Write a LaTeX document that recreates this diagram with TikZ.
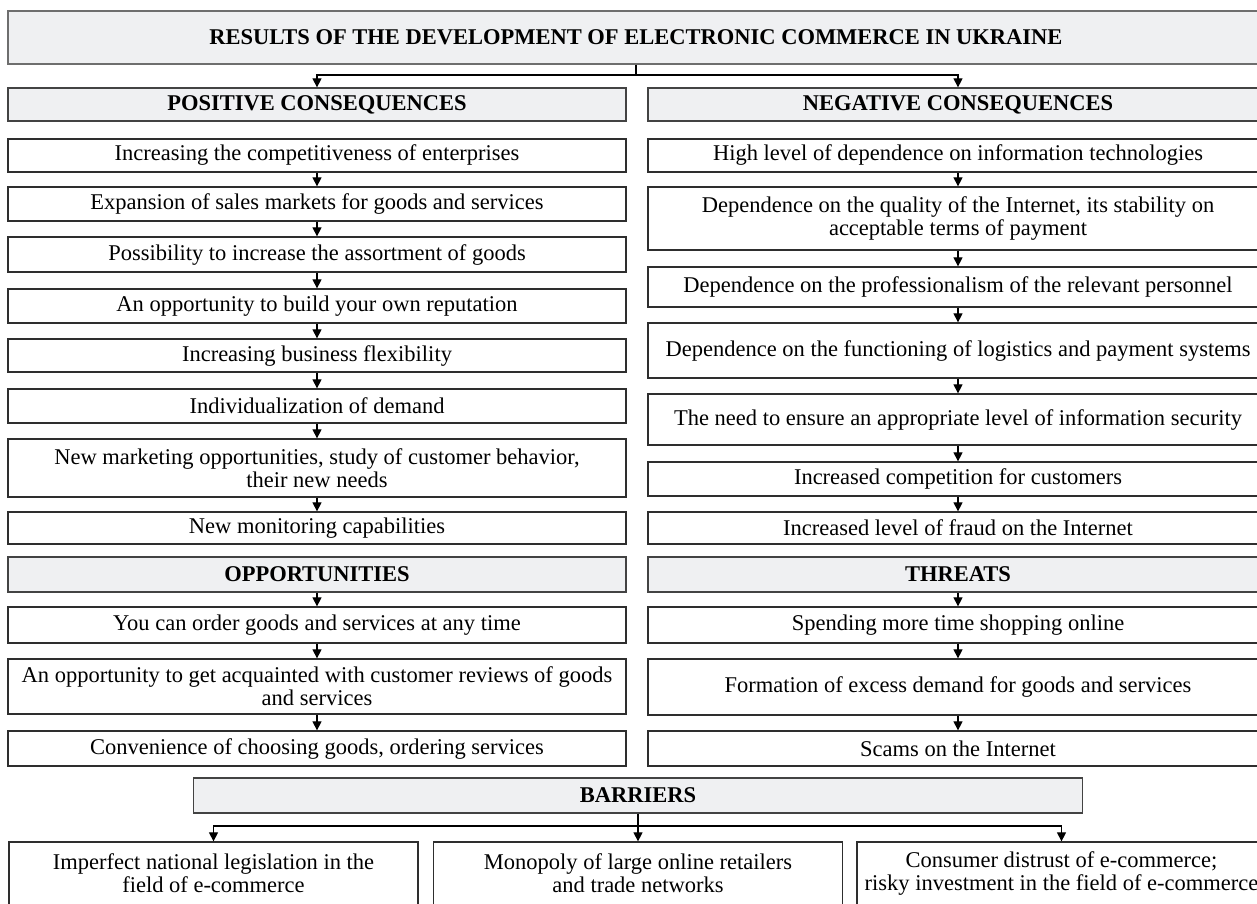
\documentclass[tikz,border=0pt]{standalone}
\usepackage{fontspec}
\setmainfont{Liberation Serif}
\usetikzlibrary{arrows.meta,positioning}
\definecolor{headfill}{HTML}{EFF0F2}
\definecolor{boxline}{HTML}{2E2E2E}
\definecolor{titleline}{HTML}{6E6E6E}

\begin{document}
\begin{tikzpicture}[
    x=1pt, y=-1pt,
    font=\fontsize{22.5}{23}\selectfont,
    itembox/.style={draw=boxline, line width=1.3pt, fill=white, align=center,
                    inner sep=0pt},
    lcol/.style={itembox, minimum width=618pt},
    rcol/.style={itembox, minimum width=620pt},
    headbox/.style={itembox, fill=headfill, draw=boxline!90,
                    font=\fontsize{22.5}{23}\selectfont\bfseries},
    arrow/.style={-{Triangle[width=9pt,length=9pt]}, line width=1.2pt}
]
\useasboundingbox (0,0) rectangle (1257,903);
\clip (0,0) rectangle (1257,903);

% title
\node[headbox, draw=titleline, minimum width=1256pt, minimum height=53pt]
    (title) at (636,37.5) {RESULTS OF THE DEVELOPMENT OF ELECTRONIC COMMERCE IN UKRAINE};
\coordinate (tsplit) at (636,75);

% left column
\node[headbox, minimum width=618pt, minimum height=33pt] (poshead) at (317,104.5) {POSITIVE CONSEQUENCES};
\node[lcol, minimum height=33pt] (pos1) at (317,155.5) {Increasing the competitiveness of enterprises};
\node[lcol, minimum height=34pt] (pos2) at (317,204) {Expansion of sales markets for goods and services};
\node[lcol, minimum height=35pt] (pos3) at (317,254.5) {Possibility to increase the assortment of goods};
\node[lcol, minimum height=34pt] (pos4) at (317,306) {An opportunity to build your own reputation};
\node[lcol, minimum height=33pt] (pos5) at (317,355.5) {Increasing business flexibility};
\node[lcol, minimum height=34pt] (pos6) at (317,406) {Individualization of demand};
\node[lcol, minimum height=58pt] (pos7) at (317,468) {New marketing opportunities, study of customer behavior,\\their new needs};
\node[lcol, minimum height=32pt] (pos8) at (317,528) {New monitoring capabilities};

\node[headbox, minimum width=618pt, minimum height=35pt] (opphead) at (317,574.5) {OPPORTUNITIES};
\node[lcol, minimum height=36pt] (opp1) at (317,625) {You can order goods and services at any time};
\node[lcol, minimum height=55pt] (opp2) at (317,686.5) {An opportunity to get acquainted with customer reviews of goods\\and services};
\node[lcol, minimum height=35pt] (opp3) at (317,748.5) {Convenience of choosing goods, ordering services};

% right column
\node[headbox, minimum width=620pt, minimum height=33pt] (neghead) at (958,104.5) {NEGATIVE CONSEQUENCES};
\node[rcol, minimum height=33pt] (neg1) at (958,155.5) {High level of dependence on information technologies};
\node[rcol, minimum height=63pt] (neg2) at (958,218.5) {Dependence on the quality of the Internet, its stability on\\acceptable terms of payment};
\node[rcol, minimum height=40pt] (neg3) at (958,287) {Dependence on the professionalism of the relevant personnel};
\node[rcol, minimum height=55pt] (neg4) at (958,350.5) {Dependence on the functioning of logistics and payment systems};
\node[rcol, minimum height=51pt] (neg5) at (958,419.5) {The need to ensure an appropriate level of information security};
\node[rcol, minimum height=34pt] (neg6) at (958,479) {Increased competition for customers};
\node[rcol, minimum height=32pt] (neg7) at (958,528) {Increased level of fraud on the Internet};

\node[headbox, minimum width=620pt, minimum height=35pt] (thrhead) at (958,574.5) {THREATS};
\node[rcol, minimum height=36pt] (thr1) at (958,625) {Spending more time shopping online};
\node[rcol, minimum height=56pt] (thr2) at (958,687) {Formation of excess demand for goods and services};
\node[rcol, minimum height=35pt] (thr3) at (958,748.5) {Scams on the Internet};

% barriers
\node[headbox, minimum width=889pt, minimum height=35pt] (barhead) at (638,795.5) {BARRIERS};
\coordinate (bsplit) at (638,826);
\node[itembox, minimum width=409pt, minimum height=63pt] (bar1) at (213.5,873.5) {Imperfect national legislation in the\\field of e-commerce};
\node[itembox, minimum width=409pt, minimum height=63pt] (bar2) at (638,873.5) {Monopoly of large online retailers\\and trade networks};
\node[itembox, minimum width=409pt, minimum height=63pt] (bar3) at (1061.5,873.5) {Consumer distrust of e-commerce;\\risky investment in the field of e-commerce};

% connectors
\draw[arrow] (title) -- (tsplit) -| (poshead);
\draw[arrow] (tsplit) -| (neghead);

\draw[arrow] (pos1) -- (pos2);
\draw[arrow] (pos2) -- (pos3);
\draw[arrow] (pos3) -- (pos4);
\draw[arrow] (pos4) -- (pos5);
\draw[arrow] (pos5) -- (pos6);
\draw[arrow] (pos6) -- (pos7);
\draw[arrow] (pos7) -- (pos8);
\draw[arrow] (opphead) -- (opp1);
\draw[arrow] (opp1) -- (opp2);
\draw[arrow] (opp2) -- (opp3);

\draw[arrow] (neg1) -- (neg2);
\draw[arrow] (neg2) -- (neg3);
\draw[arrow] (neg3) -- (neg4);
\draw[arrow] (neg4) -- (neg5);
\draw[arrow] (neg5) -- (neg6);
\draw[arrow] (neg6) -- (neg7);
\draw[arrow] (thrhead) -- (thr1);
\draw[arrow] (thr1) -- (thr2);
\draw[arrow] (thr2) -- (thr3);

\draw[arrow] (barhead) -- (bar2);
\draw[arrow] (bsplit) -| (bar1);
\draw[arrow] (bsplit) -| (bar3);
\end{tikzpicture}
\end{document}
